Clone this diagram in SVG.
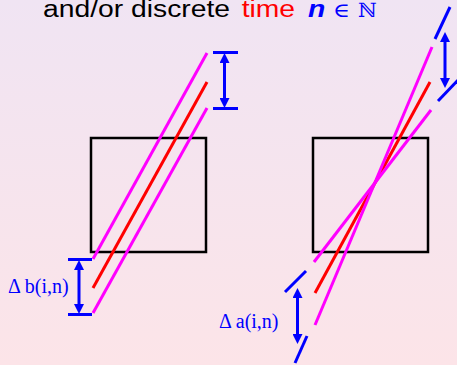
<svg xmlns="http://www.w3.org/2000/svg" width="457" height="365" viewBox="0 0 457 365">
<defs>
<linearGradient id="bg" x1="0" y1="0" x2="0" y2="1">
<stop offset="0" stop-color="#f0e4f3"/>
<stop offset="1" stop-color="#fce4e8"/>
</linearGradient>
<marker id="ah" markerUnits="userSpaceOnUse" markerWidth="10" markerHeight="10" refX="0" refY="5" orient="auto-start-reverse" viewBox="0 0 10 10">
<path d="M0,0 L10,5 L0,10 z" fill="#0000ff"/>
</marker>
<style>
.box{fill:none;stroke:#000;stroke-width:2.5}
.mag{stroke:#ff00ff;stroke-width:3;fill:none}
.red{stroke:#ff0000;stroke-width:3;fill:none}
.blue{stroke:#0000ff;stroke-width:3;fill:none}
.arr{stroke:#0000ff;stroke-width:3;fill:none;marker-start:url(#ah);marker-end:url(#ah)}
.lbl{font-family:"Liberation Serif","Times New Roman",serif;font-size:20px;fill:#0000ff}
.title{font-family:"Liberation Sans",Arial,sans-serif;font-size:23px}
.math{font-family:"DejaVu Serif","Liberation Serif",serif;fill:#0000ff;font-size:20px}
</style>
</defs>
<rect width="457" height="365" fill="url(#bg)"/>
<g transform="translate(43,17.3) scale(1.23,1)">
<text class="title" x="0" y="0"><tspan fill="#000">and/or discrete</tspan><tspan x="161.5" fill="#ff0000">time</tspan><tspan x="215.4" fill="#0000ff" font-style="italic" font-weight="bold">n</tspan></text>
</g>
<text class="math" x="333" y="17.3" textLength="17" lengthAdjust="spacingAndGlyphs">∈</text>
<text class="math" x="358" y="17.3" textLength="19" lengthAdjust="spacingAndGlyphs">ℕ</text>
<g id="box-left"><rect class="box" x="91" y="138" width="115" height="114"/></g>
<g id="box-right"><rect class="box" x="313" y="138" width="115" height="114"/></g>
<g id="connectors">
<line class="mag" x1="207" y1="53" x2="93" y2="259"/>
<line class="red" x1="207" y1="82" x2="93" y2="288"/>
<line class="mag" x1="207" y1="108" x2="93" y2="313"/>
<line class="red" x1="430" y1="82" x2="315" y2="293"/>
<line class="mag" x1="432" y1="47" x2="315" y2="325"/>
<line class="mag" x1="431" y1="110" x2="314" y2="262"/>
<line class="blue" x1="435" y1="39" x2="450" y2="7"/>
<line class="blue" x1="438" y1="101" x2="460" y2="78"/>
<line class="blue" x1="285" y1="292" x2="306" y2="271"/>
<line class="blue" x1="295" y1="363" x2="307" y2="336"/>
<line class="blue" x1="213" y1="52.5" x2="238" y2="52.5"/>
<line class="blue" x1="213" y1="108.5" x2="238" y2="108.5"/>
<line class="arr" x1="224.5" y1="63" x2="224.5" y2="98"/>
<line class="blue" x1="68" y1="259.5" x2="92" y2="259.5"/>
<line class="blue" x1="68" y1="314.5" x2="92" y2="314.5"/>
<line class="arr" x1="79" y1="270" x2="79" y2="304"/>
<line class="arr" x1="297.5" y1="298" x2="297.5" y2="334"/>
<line class="arr" x1="445" y1="42" x2="445" y2="78"/>
</g>
<text class="lbl" x="8" y="293">Δ b(i,n)</text>
<text class="lbl" x="219" y="328">Δ a(i,n)</text>
</svg>
